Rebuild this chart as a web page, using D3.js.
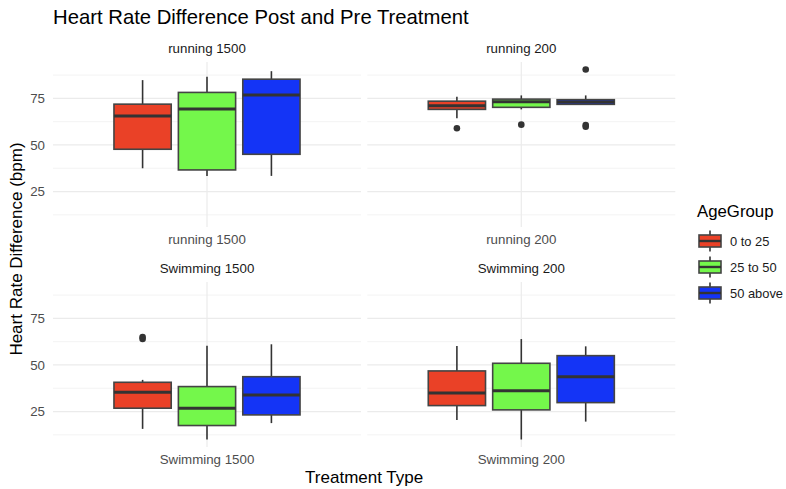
<!DOCTYPE html>
<html lang="en">
<head>
    <meta charset="UTF-8">
    <title>Heart Rate Difference Post and Pre Treatment</title>
    <script src="https://d3js.org/d3.v7.min.js"></script>
    <style>
        body { margin: 0; background: #fff; }
        text { font-family: "Liberation Sans", Arial, sans-serif; }
    </style>
</head>
<body>
    <svg id="chart" width="786" height="489"></svg>
    <script>
        // facets (treatment types) and fill groups
        const facets = ["running 1500", "running 200", "Swimming 1500", "Swimming 200"];
        const ageGroups = ["0 to 25", "25 to 50", "50 above"];
        const fills = ["#ea4127", "#74f74b", "#1434f6"];

        // box stats per facet, one value per age group
        const lowWhisker = [[37.5, 33.4, 33.4], [64.3, 69.1, 71.6], [15.7, 10, 18.8], [20.5, 10, 19.6]];
        const q1 = [[47.7, 36.6, 45], [69.1, 70.2, 71.8], [26.8, 17.5, 23.2], [28.2, 25.9, 29.8]];
        const median = [[65.5, 69.3, 76.8], [71, 73.2, 73], [35.4, 26.8, 33.9], [35, 36.2, 43.7]];
        const q3 = [[71.9, 78.2, 85.3], [73.5, 74.6, 74.3], [40.7, 38.4, 43.7], [46.8, 50.9, 55]];
        const highWhisker = [[84.8, 86.6, 89.6], [75.9, 76.6, 76.6], [42, 60.3, 61.1], [60.2, 63.9, 60]];
        const outliers = [[[], [], []], [[59], [60.9], [90.5, 60.7, 59.8]], [[64, 65], [], []], [[], [], []]];

        const yTicks = [25, 50, 75];
        const yMinor = [12.5, 37.5, 62.5, 87.5];

        const svg = d3.select("#chart");

        const panelW = 308, panelH = 165, gapX = 6.3;
        const panelLeft = 53;
        const panelTops = [62, 282];

        // y range with ggplot style 5% expansion
        let all = [];
        facets.forEach((f, i) => {
            all = all.concat(lowWhisker[i], highWhisker[i], ...outliers[i]);
        });
        let [ymin, ymax] = d3.extent(all);
        let pad = (ymax - ymin) * 0.05;

        let y = d3.scaleLinear().domain([ymin - pad, ymax + pad]).range([panelH, 0]);

        // one category per panel, expanded by 0.6 on each side
        let xCat = d3.scaleLinear().domain([0.4, 1.6]).range([0, panelW]);
        let dodge = d3.scaleBand()
            .domain(ageGroups)
            .range([xCat(1 - 0.375), xCat(1 + 0.375)])
            .paddingInner(0.1 / 0.9)
            .paddingOuter(0.05);

        let color = d3.scaleOrdinal().domain(ageGroups).range(fills);

        // Title
        svg.append("text")
            .attr("x", panelLeft)
            .attr("y", 24)
            .attr("font-size", 20.3)
            .attr("fill", "#000")
            .text("Heart Rate Difference Post and Pre Treatment");

        facets.forEach((facet, i) => {
            let col = i % 2, row = Math.floor(i / 2);
            let px = panelLeft + col * (panelW + gapX);
            let py = panelTops[row];
            let g = svg.append("g").attr("transform", `translate(${px},${py})`);

            // grid
            g.selectAll(".minor").data(yMinor).enter().append("line")
                .attr("x1", 0).attr("x2", panelW)
                .attr("y1", d => y(d)).attr("y2", d => y(d))
                .attr("stroke", "#f3f3f3").attr("stroke-width", 1);
            g.selectAll(".major").data(yTicks).enter().append("line")
                .attr("x1", 0).attr("x2", panelW)
                .attr("y1", d => y(d)).attr("y2", d => y(d))
                .attr("stroke", "#ebebeb").attr("stroke-width", 1.2);
            g.append("line")
                .attr("x1", xCat(1)).attr("x2", xCat(1))
                .attr("y1", 0).attr("y2", panelH)
                .attr("stroke", "#ebebeb").attr("stroke-width", 1.2);

            // strip label
            g.append("text")
                .attr("x", panelW / 2).attr("y", -9)
                .attr("text-anchor", "middle")
                .attr("font-size", 13.3)
                .attr("fill", "#1a1a1a")
                .text(facet);

            // x axis label (free scales)
            g.append("text")
                .attr("x", xCat(1)).attr("y", panelH + 17)
                .attr("text-anchor", "middle")
                .attr("font-size", 13.3)
                .attr("fill", "#4d4d4d")
                .text(facet);

            // y tick labels on left column only
            if (col === 0) {
                g.selectAll(".ylab").data(yTicks).enter().append("text")
                    .attr("x", -8).attr("y", d => y(d))
                    .attr("dy", "0.35em")
                    .attr("text-anchor", "end")
                    .attr("font-size", 13.3)
                    .attr("fill", "#4d4d4d")
                    .text(d => d);
            }

            // boxes
            ageGroups.forEach((grp, j) => {
                let x0 = dodge(grp), bw = dodge.bandwidth(), cx = x0 + bw / 2;
                g.append("line")
                    .attr("x1", cx).attr("x2", cx)
                    .attr("y1", y(highWhisker[i][j])).attr("y2", y(q3[i][j]))
                    .attr("stroke", "#333").attr("stroke-width", 1.6);
                g.append("line")
                    .attr("x1", cx).attr("x2", cx)
                    .attr("y1", y(q1[i][j])).attr("y2", y(lowWhisker[i][j]))
                    .attr("stroke", "#333").attr("stroke-width", 1.6);
                g.append("rect")
                    .attr("x", x0).attr("width", bw)
                    .attr("y", y(q3[i][j]))
                    .attr("height", y(q1[i][j]) - y(q3[i][j]))
                    .attr("fill", color(grp))
                    .attr("stroke", "#444").attr("stroke-width", 1.6);
                g.append("line")
                    .attr("x1", x0).attr("x2", x0 + bw)
                    .attr("y1", y(median[i][j])).attr("y2", y(median[i][j]))
                    .attr("stroke", "#333").attr("stroke-width", 3);
                g.selectAll(null).data(outliers[i][j]).enter().append("circle")
                    .attr("cx", cx).attr("cy", d => y(d))
                    .attr("r", 3.3)
                    .attr("fill", "#333");
            });
        });

        // axis titles
        svg.append("text")
            .attr("x", panelLeft + (2 * panelW + gapX) / 2)
            .attr("y", 483)
            .attr("text-anchor", "middle")
            .attr("font-size", 17)
            .attr("fill", "#000")
            .text("Treatment Type");

        svg.append("text")
            .attr("transform", "translate(22,249) rotate(-90)")
            .attr("text-anchor", "middle")
            .attr("font-size", 17)
            .attr("fill", "#000")
            .text("Heart Rate Difference (bpm)");

        // legend
        let legend = svg.append("g").attr("transform", "translate(697,0)");
        legend.append("text")
            .attr("x", 0).attr("y", 217)
            .attr("font-size", 16.8)
            .attr("fill", "#000")
            .text("AgeGroup");

        ageGroups.forEach((grp, j) => {
            let cy = 241 + j * 26;
            let k = legend.append("g").attr("transform", `translate(2,${cy})`);
            k.append("line")
                .attr("x1", 11).attr("x2", 11)
                .attr("y1", -10.5).attr("y2", 10.5)
                .attr("stroke", "#333").attr("stroke-width", 1.6);
            k.append("rect")
                .attr("x", 0).attr("y", -6)
                .attr("width", 22).attr("height", 12)
                .attr("fill", color(grp))
                .attr("stroke", "#444").attr("stroke-width", 1.6);
            k.append("line")
                .attr("x1", 0).attr("x2", 22)
                .attr("y1", 0).attr("y2", 0)
                .attr("stroke", "#333").attr("stroke-width", 2.4);
            k.append("text")
                .attr("x", 31).attr("y", 0)
                .attr("dy", "0.35em")
                .attr("font-size", 12.9)
                .attr("fill", "#1a1a1a")
                .text(grp);
        });
    </script>
</body>
</html>
